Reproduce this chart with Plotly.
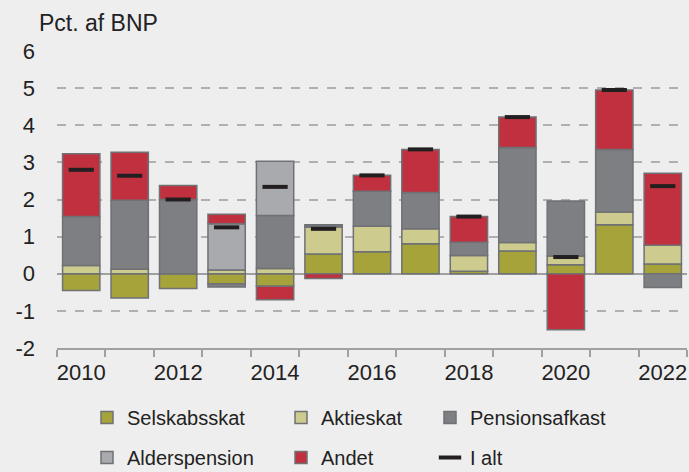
import plotly.graph_objects as go

years = list(range(2010, 2023))
selskabsskat = [-0.45, -0.65, -0.40, -0.27, -0.34, 0.53, 0.59, 0.81, 0.07, 0.61, 0.24, 1.32, 0.26]
aktieskat    = [0.22, 0.12, 0.00, 0.10, 0.14, 0.73, 0.69, 0.40, 0.42, 0.23, 0.24, 0.34, 0.51]
pension      = [1.32, 1.86, 2.00, -0.09, 1.43, 0.06, 0.94, 0.98, 0.36, 2.56, 1.47, 1.69, -0.37]
alders       = [0.00, 0.00, 0.00, 1.25, 1.46, 0.00, 0.00, 0.00, 0.00, 0.00, 0.00, 0.00, 0.00]
andet        = [1.69, 1.29, 0.375, 0.25, -0.36, -0.13, 0.43, 1.16, 0.69, 0.82, -1.51, 1.60, 1.94]
i_alt        = [2.80, 2.64, 2.00, 1.25, 2.34, 1.21, 2.65, 3.35, 1.54, 4.22, 0.45, 4.95, 2.36]
tick_years = [2010, 2012, 2014, 2016, 2018, 2020, 2022]
y_ticks = [-2, -1, 0, 1, 2, 3, 4, 5, 6]

FONT = "Liberation Sans, Arial, sans-serif"
BG = "#EEEEEE"
EDGE = "#6F7175"
AX = "#A0A0A0"
TXT = "#222222"

series = [
    ("Selskabsskat", selskabsskat, "#A6A33B", "legend"),
    ("Aktieskat", aktieskat, "#CDCB8E", "legend2"),
    ("Pensionsafkast", pension, "#7D7F83", "legend3"),
    ("Alderspension", alders, "#A8AAAD", "legend"),
    ("Andet", andet, "#C0303E", "legend2"),
]

fig = go.Figure()
for name, vals, col, lg in series:
    fig.add_trace(go.Bar(
        x=years, y=vals, name=name, width=0.77,
        marker=dict(color=col, line=dict(color=EDGE, width=1.5)),
        legend=lg, legendgroup=name,
    ))
fig.add_trace(go.Scatter(
    x=years, y=i_alt, name="I alt", mode="markers",
    marker=dict(symbol="line-ew", size=18, line=dict(color="#231F20", width=4)),
    legend="legend3", legendgroup="I alt",
))
# invisible helper trace so the label axis is drawn
fig.add_trace(go.Scatter(x=[years[0]], y=[0], xaxis="x2", mode="markers",
                         marker=dict(opacity=0), showlegend=False, hoverinfo="skip"))

boundaries = [y - 0.5 for y in years] + [years[-1] + 0.5]

leg_common = dict(
    font=dict(family=FONT, size=20, color=TXT),
    bgcolor="rgba(0,0,0,0)", xref="container", yref="container",
    xanchor="left", yanchor="top", traceorder="grouped", tracegroupgap=11,
)
top = 1 - 398 / 472
fig.update_layout(
    barmode="relative",
    width=689, height=472,
    margin=dict(l=57, r=2, t=51, b=124, autoexpand=False),
    paper_bgcolor=BG, plot_bgcolor=BG,
    font=dict(family=FONT, size=20, color=TXT),
    showlegend=True,
    legend=dict(x=87 / 689, y=top, **leg_common),
    legend2=dict(x=281 / 689, y=top, **leg_common),
    legend3=dict(x=430 / 689, y=top, **leg_common),
    xaxis=dict(
        range=[2009.5, 2022.5], tickvals=boundaries, ticktext=[""] * len(boundaries),
        ticks="outside", ticklen=7, tickcolor=AX, tickwidth=1.5,
        showgrid=False, zeroline=False,
        showline=True, linecolor=AX, linewidth=1.5,
    ),
    xaxis2=dict(
        range=[2009.5, 2022.5], overlaying="x", side="bottom", matches="x",
        tickvals=tick_years, ticktext=[str(y) for y in tick_years],
        ticks="", showgrid=False, zeroline=False, showline=False,
        ticklabelstandoff=9,
        tickfont=dict(family=FONT, size=22, color=TXT),
    ),
    yaxis=dict(
        range=[-2, 6], tickvals=y_ticks, ticktext=[str(v) for v in y_ticks],
        showgrid=True, gridcolor="#B0B0B0", griddash="dash", gridwidth=1.5,
        zeroline=True, zerolinecolor=AX, zerolinewidth=1.5,
        ticks="", ticklabelstandoff=21,
        tickfont=dict(family=FONT, size=22, color=TXT),
    ),
    annotations=[dict(
        text="Pct. af BNP", xref="paper", yref="paper", x=(37 - 57) / 630, y=1 + (51 - 23) / 297,
        xanchor="left", yanchor="middle", showarrow=False,
        font=dict(family=FONT, size=23, color=TXT),
    )],
)
fig.write_html("out.html", post_script="document.body.style.margin='0';",
               config={"displayModeBar": False})
